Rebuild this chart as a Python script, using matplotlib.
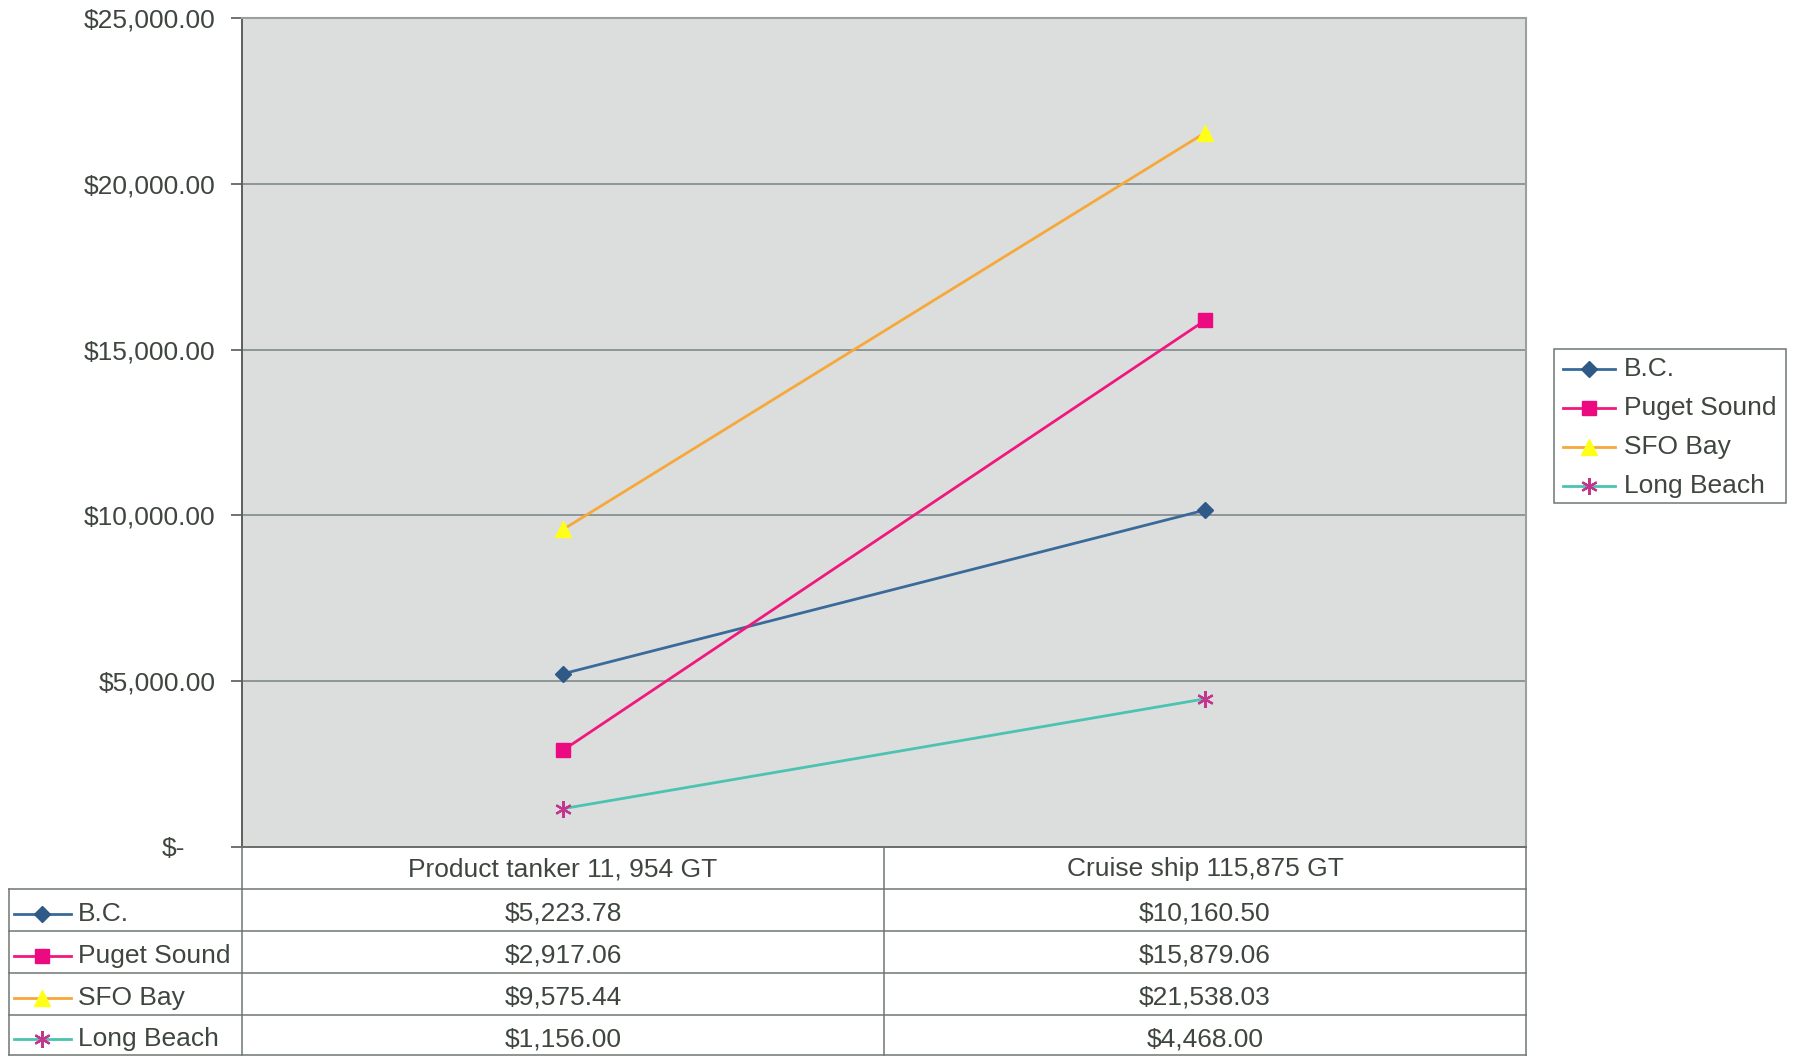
import matplotlib
matplotlib.use("Agg")
import matplotlib.pyplot as plt
from matplotlib.lines import Line2D
from matplotlib.ticker import FuncFormatter
from matplotlib.transforms import ScaledTranslation

plt.rcParams['font.family'] = ['Liberation Sans', 'DejaVu Sans']

# Data
categories = ["Product tanker 11, 954 GT", "Cruise ship 115,875 GT"]
series_names = ["B.C.", "Puget Sound", "SFO Bay", "Long Beach"]
bc = [5223.78, 10160.50]
puget = [2917.06, 15879.06]
sfo = [9575.44, 21538.03]
long_beach = [1156.00, 4468.00]
yticks = [0, 5000, 10000, 15000, 20000, 25000]

values = [bc, puget, sfo, long_beach]
styles = [
    dict(color="#3a6a9a", marker="D", mfc="#2f5a88", mec="#2f5a88", ms=8.5),
    dict(color="#f0187e", marker="s", mfc="#ec0a80", mec="#ec0a80", ms=10),
    dict(color="#f6a83a", marker="^", mfc="#ffff1a", mec="#ffff1a", ms=11),
    dict(color="#4cc3b0", marker=(6, 2, 0), mfc="#c4358e", mec="#c4358e", ms=12, mew=1.6),
]

TXT = "#3f463f"
FS = 19
W, H = 1794, 1056
fig = plt.figure(figsize=(W / 100, H / 100), dpi=100)
fig.patch.set_facecolor("white")


def fx(px):
    return px / W


def fy(py):
    return 1 - py / H


ax_l, ax_r, ax_t, ax_b = 242, 1526, 18, 847
ax = fig.add_axes([fx(ax_l), fy(ax_b), fx(ax_r - ax_l), fy(ax_t) - fy(ax_b)])
ax.set_facecolor("#dcdedd")

xpos = [0.5, 1.5]
for vals, st in zip(values, styles):
    ax.plot(xpos, vals, lw=2.0, zorder=3, **st)

ax.set_xlim(0, 2)
ax.set_ylim(0, 25000)
ax.set_yticks(yticks)
ax.yaxis.set_major_formatter(FuncFormatter(lambda v, p: "$-" if v == 0 else f"${v:,.2f}"))
ax.tick_params(axis="y", labelsize=FS, labelcolor=TXT, color="#555b55",
               length=8, width=1.2, direction="out", pad=11)
ax.set_xticks([])
ax.grid(axis="y", color="#7f8a8c", lw=1.2, zorder=1)
ax.set_axisbelow(True)
for side in ["top", "right"]:
    ax.spines[side].set_color("#9aa0a0")
    ax.spines[side].set_linewidth(1.5)
ax.spines["left"].set_color("#5a605a")
ax.spines["left"].set_linewidth(1.4)
ax.spines["bottom"].set_color("#5a605a")
ax.spines["bottom"].set_linewidth(1.4)

# "$-" sits to the left, like an accounting format
fig.canvas.draw()
for lab in ax.get_yticklabels():
    if lab.get_text() == "$-":
        lab.set_transform(lab.get_transform() + ScaledTranslation(-0.31, 0, fig.dpi_scale_trans))

# Data table under the plot
col_mid = 884
tbl_left = 9
row_y = [847, 889, 931, 973, 1015, 1055]
line_kw = dict(color="#6f7670", lw=1.1, transform=fig.transFigure)

# vertical borders
fig.add_artist(Line2D([fx(ax_l)] * 2, [fy(row_y[0]), fy(row_y[-1])], **line_kw))
fig.add_artist(Line2D([fx(col_mid)] * 2, [fy(row_y[0]), fy(row_y[-1])], **line_kw))
fig.add_artist(Line2D([fx(ax_r)] * 2, [fy(row_y[0]), fy(row_y[-1])], **line_kw))
fig.add_artist(Line2D([fx(tbl_left)] * 2, [fy(row_y[1]), fy(row_y[-1])], **line_kw))
# horizontal borders
for i, yy in enumerate(row_y):
    x0 = ax_l if i == 0 else tbl_left
    fig.add_artist(Line2D([fx(x0), fx(ax_r)], [fy(yy)] * 2, **line_kw))

col_centers = [(ax_l + col_mid) / 2, (col_mid + ax_r) / 2]
for cx, cat in zip(col_centers, categories):
    fig.text(fx(cx), fy((row_y[0] + row_y[1]) / 2 + 1), cat, ha="center", va="center",
             fontsize=FS, color=TXT)

for i, (name, vals, st) in enumerate(zip(series_names, values, styles)):
    yc = fy((row_y[i + 1] + row_y[i + 2]) / 2 + 4)
    fig.add_artist(Line2D([fx(14), fx(71)], [yc, yc], transform=fig.transFigure,
                          color=st["color"], lw=2.0))
    fig.add_artist(Line2D([fx(42)], [yc], transform=fig.transFigure, lw=0,
                          marker=st["marker"], markerfacecolor=st["mfc"],
                          markeredgecolor=st["mec"], markersize=st["ms"],
                          markeredgewidth=st.get("mew", 1.0)))
    fig.text(fx(78), yc, name, ha="left", va="center", fontsize=FS, color=TXT)
    for cx, v in zip(col_centers, vals):
        fig.text(fx(cx), yc, f"${v:,.2f}", ha="center", va="center",
                 fontsize=FS, color=TXT)

# Legend on the right
lg_l, lg_r, lg_t, lg_b = 1554, 1786, 349, 503
fig.add_artist(plt.Rectangle((fx(lg_l), fy(lg_b)), fx(lg_r - lg_l), fy(lg_t) - fy(lg_b),
                             transform=fig.transFigure, facecolor="white",
                             edgecolor="#6f7670", lw=1.1))
entry_y = [369, 408, 447, 486]
for name, st, ey in zip(series_names, styles, entry_y):
    yc = fy(ey)
    fig.add_artist(Line2D([fx(1563), fx(1615)], [yc, yc], transform=fig.transFigure,
                          color=st["color"], lw=2.0))
    fig.add_artist(Line2D([fx(1589)], [yc], transform=fig.transFigure, lw=0,
                          marker=st["marker"], markerfacecolor=st["mfc"],
                          markeredgecolor=st["mec"], markersize=st["ms"],
                          markeredgewidth=st.get("mew", 1.0)))
    fig.text(fx(1624), yc, name, ha="left", va="center", fontsize=FS, color=TXT)

fig.savefig("out.png", dpi=100, facecolor="white")
